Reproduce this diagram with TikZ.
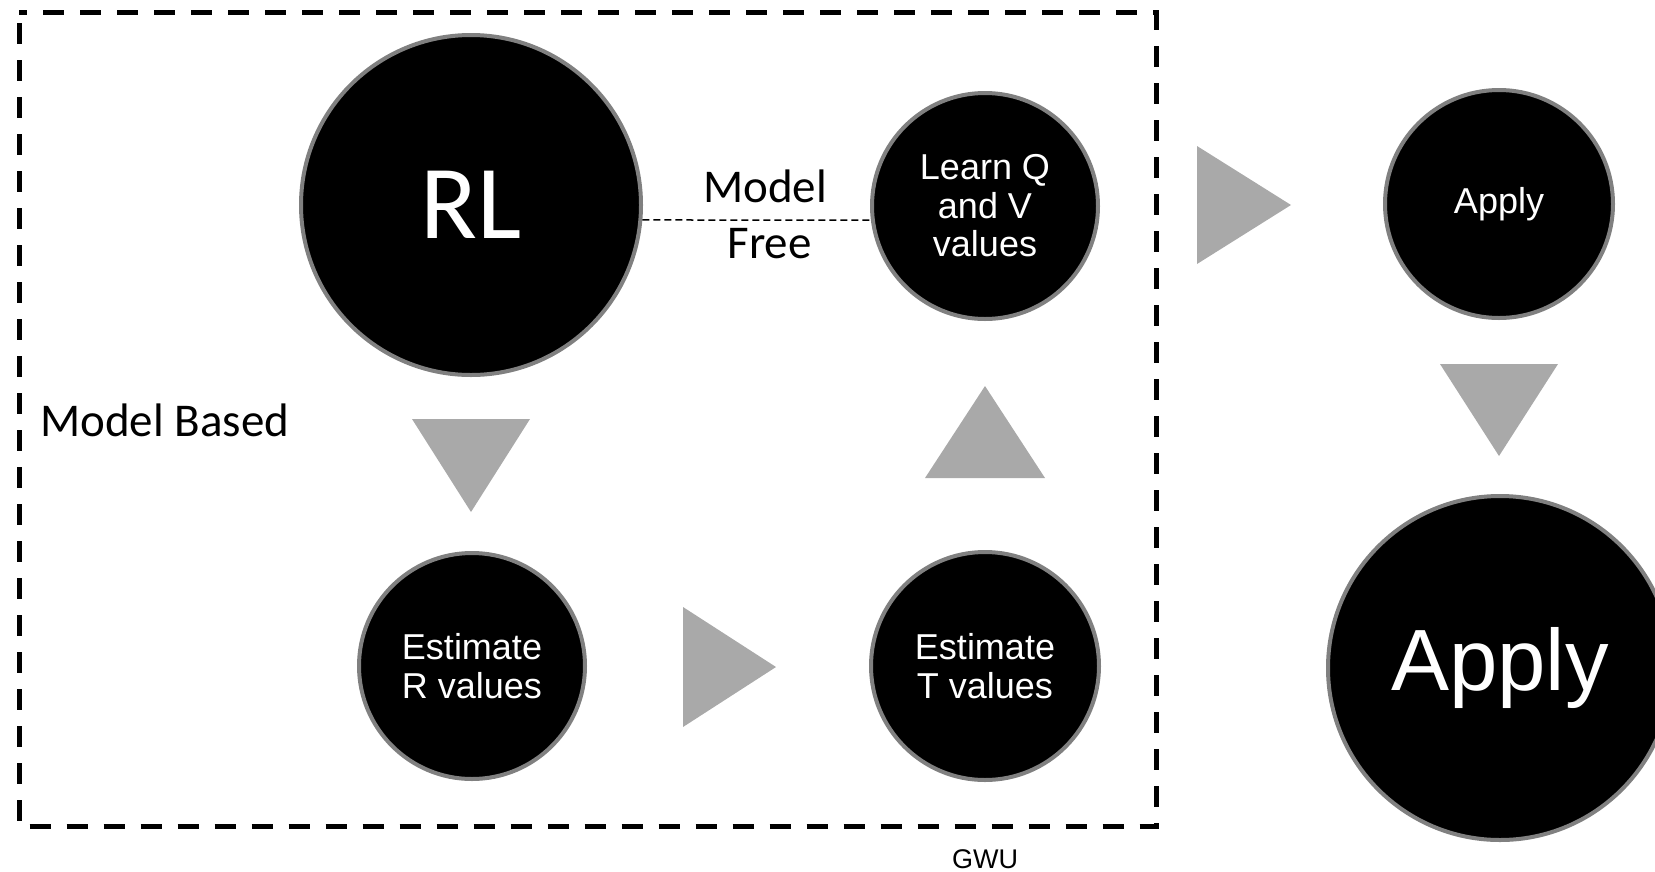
\documentclass[tikz,border=0pt]{standalone}
\usepackage{fontspec}
\setmainfont{Liberation Sans}
\newfontfamily\calibri{Carlito}
\definecolor{ringgray}{RGB}{128,128,128}
\definecolor{arrowgray}{RGB}{169,169,169}
\tikzset{
  disc/.style={circle, fill=black, draw=ringgray, line width=4pt, inner sep=0pt,
    text=white, align=center, font=\fontsize{36}{38.5}\selectfont},
  label/.style={inner sep=0pt, font=\calibri\fontsize{47}{47}\selectfont},
  flow/.style={fill=arrowgray},
  frame/.style={line width=5pt, dash pattern=on 21pt off 16pt, dash phase=26.5pt},
  link/.style={line width=1.5pt, dash pattern=on 7pt off 4pt}
}
\begin{document}
\begin{tikzpicture}[x=1pt, y=-1pt]
\useasboundingbox (0,0) rectangle (1655,871);
\clip (0,0) rectangle (1655,871);

% model-based region
\draw[frame] (19,12.5) rectangle (1156.5,826.5);

% circles
\node[disc, minimum size=340, font=\calibri\fontsize{105}{105}\selectfont] (rl) at (471,205) {RL};
\node[disc, minimum size=226] (lq) at (985,206) {Learn Q\\and V\\values};
\node[disc, minimum size=226] (er) at (472,666) {Estimate\\R values};
\node[disc, minimum size=228] (et) at (985,666) {Estimate\\T values};
\node[disc, minimum size=228] (ap1) at (1499,204) {Apply};
\node[disc, minimum size=344, font=\fontsize{87}{87}\selectfont] (ap2) at (1500,668) {Apply};

% model-free link
\draw[link] (rl.-5.3) -- (lq.187.5);

% labels
\node[label, anchor=base] (mdl) at (765,202) {Model};
\node[label, anchor=base] (fre) at (769.5,258) {Free};
\node[label, anchor=base west] (mb) at (40,436) {Model Based};
\node[inner sep=0pt, anchor=base, font=\fontsize{27}{27}\selectfont] (gwu) at (985,868) {GWU};

% flow triangles
\fill[flow] (412,419) -- (530,419) -- (471,512) -- cycle;
\fill[flow] (683,607) -- (683,727) -- (776,667) -- cycle;
\fill[flow] (925,478) -- (1045,478) -- (985,386) -- cycle;
\fill[flow] (1197,146) -- (1197,264) -- (1291,205) -- cycle;
\fill[flow] (1440,364) -- (1558,364) -- (1499,456) -- cycle;
\end{tikzpicture}
\end{document}
